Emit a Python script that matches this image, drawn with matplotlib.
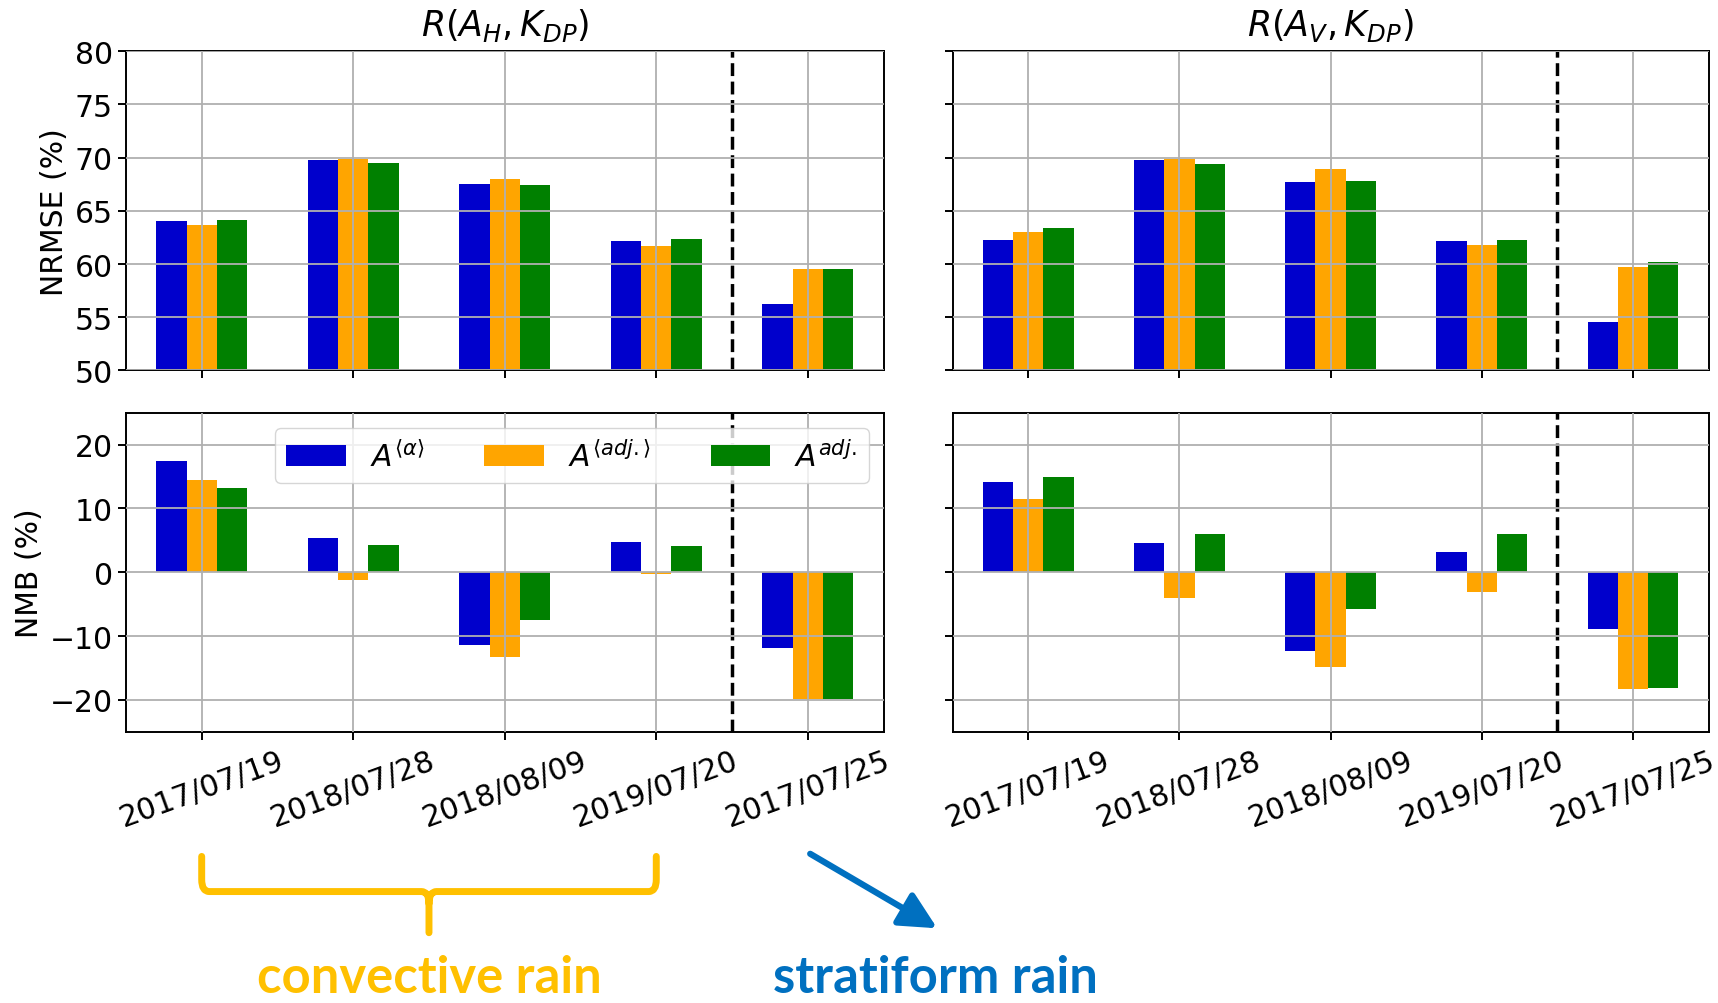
import matplotlib.pyplot as plt
import matplotlib.transforms as mtransforms
import numpy as np
from matplotlib.patches import FancyArrowPatch, PathPatch
from matplotlib.path import Path

# -----------------------------
# Data
# -----------------------------

dates = ["2017/07/19", "2018/07/28", "2018/08/09", "2019/07/20", "2017/07/25"]

series_labels = [
    r"$A^{\langle\alpha\rangle}$",
    r"$A^{\langle adj.\rangle}$",
    r"$A^{adj.}$",
]
series_colors = ["#0000cc", "orange", "green"]

# NRMSE (%), R(A_H, K_DP)
nrmse_h_alpha = [64.0, 69.8, 67.5, 62.2, 56.2]
nrmse_h_adj_mean = [63.7, 69.9, 68.0, 61.7, 59.5]
nrmse_h_adj = [64.1, 69.5, 67.4, 62.4, 59.5]

# NRMSE (%), R(A_V, K_DP)
nrmse_v_alpha = [62.3, 69.8, 67.7, 62.2, 54.6]
nrmse_v_adj_mean = [63.0, 69.9, 68.9, 61.8, 59.7]
nrmse_v_adj = [63.4, 69.4, 67.8, 62.3, 60.2]

# NMB (%), R(A_H, K_DP)
nmb_h_alpha = [17.4, 5.3, -11.4, 4.7, -11.9]
nmb_h_adj_mean = [14.5, -1.2, -13.2, -0.3, -19.9]
nmb_h_adj = [13.2, 4.3, -7.5, 4.1, -19.9]

# NMB (%), R(A_V, K_DP)
nmb_v_alpha = [14.2, 4.6, -12.3, 3.2, -8.9]
nmb_v_adj_mean = [11.5, -4.0, -14.8, -3.1, -18.3]
nmb_v_adj = [14.9, 6.0, -5.7, 6.0, -18.1]

# convective events are the first four, stratiform the last
n_convective = 4

# -----------------------------
# Style
# -----------------------------

plt.rcParams["font.size"] = 21.5
plt.rcParams["axes.linewidth"] = 1.4
plt.rcParams["grid.linewidth"] = 1.3
plt.rcParams["xtick.major.width"] = 1.4
plt.rcParams["ytick.major.width"] = 1.4
plt.rcParams["xtick.major.size"] = 6
plt.rcParams["ytick.major.size"] = 6

fig = plt.figure(figsize=(17.18, 10.04), dpi=100)

w = 0.441
h = 0.318
ax_tl = fig.add_axes([0.0733, 0.630, w, h])
ax_tr = fig.add_axes([0.5545, 0.630, w - 0.001, h])
ax_bl = fig.add_axes([0.0733, 0.270, w, h])
ax_br = fig.add_axes([0.5545, 0.270, w - 0.001, h])

x = np.arange(len(dates))
width = 0.2
offsets = [-width, 0.0, width]


def draw_bars(ax, values):

    """
    Three grouped bars per date.
    """
    for off, vals, color, label in zip(offsets, values, series_colors, series_labels):
        ax.bar(x + off, vals, width, color=color, label=label)

    ax.axvline(n_convective - 0.5, color="black", linestyle="--", linewidth=2.5)
    ax.set_xlim(-0.5, len(dates) - 0.5)
    ax.set_xticks(x)
    ax.grid(True)
    ax.set_axisbelow(False)


draw_bars(ax_tl, [nrmse_h_alpha, nrmse_h_adj_mean, nrmse_h_adj])
draw_bars(ax_tr, [nrmse_v_alpha, nrmse_v_adj_mean, nrmse_v_adj])
draw_bars(ax_bl, [nmb_h_alpha, nmb_h_adj_mean, nmb_h_adj])
draw_bars(ax_br, [nmb_v_alpha, nmb_v_adj_mean, nmb_v_adj])

# Y axes
for ax in (ax_tl, ax_tr):
    ax.set_ylim(50, 80)
    ax.set_yticks(np.arange(50, 81, 5))
    ax.set_xticklabels([])

for ax in (ax_bl, ax_br):
    ax.set_ylim(-25, 25)
    ax.set_yticks([-20, -10, 0, 10, 20])
    ax.set_xticklabels(dates, rotation=20, ha="center")

ax_tr.set_yticklabels([])
ax_br.set_yticklabels([])

ax_tl.set_ylabel("NRMSE (%)")
ax_bl.set_ylabel("NMB (%)")

# Titles
ax_tl.set_title(r"$R(A_H,K_{DP})$", fontsize=25, pad=12)
ax_tr.set_title(r"$R(A_V,K_{DP})$", fontsize=25, pad=12)

# Legend
ax_bl.legend(loc="upper right", ncol=3, fontsize=21.5)

# -----------------------------
# Annotations below the axes
# -----------------------------

trans = mtransforms.blended_transform_factory(ax_bl.transData, fig.transFigure)

x0, x1 = 0, n_convective - 1
xm = (x0 + x1) / 2
y_top, y_mid, y_tip = 0.146, 0.111, 0.070
rx, ry = 0.05, 0.012

verts = [
    (x0, y_top), (x0, y_mid + ry), (x0, y_mid), (x0 + rx, y_mid),
    (xm - rx, y_mid), (xm, y_mid), (xm, y_mid - ry), (xm, y_tip),
    (x1, y_top), (x1, y_mid + ry), (x1, y_mid), (x1 - rx, y_mid),
    (xm + rx, y_mid), (xm, y_mid), (xm, y_mid - ry),
]
codes = [
    Path.MOVETO, Path.LINETO, Path.CURVE3, Path.CURVE3,
    Path.LINETO, Path.CURVE3, Path.CURVE3, Path.LINETO,
    Path.MOVETO, Path.LINETO, Path.CURVE3, Path.CURVE3,
    Path.LINETO, Path.CURVE3, Path.CURVE3,
]
brace = PathPatch(
    Path(verts, codes),
    transform=trans,
    facecolor="none",
    edgecolor="#ffc000",
    linewidth=5,
    capstyle="round",
    joinstyle="round",
    clip_on=False
)
fig.add_artist(brace)

fig.text(
    xm, 0.002, "convective rain",
    transform=trans, ha="center", va="bottom",
    color="#ffc000", fontsize=36.5, fontweight="bold", family="Lato"
)

arrow = FancyArrowPatch(
    (n_convective, 0.150), (n_convective + 0.87, 0.073),
    transform=trans,
    arrowstyle="-|>,head_length=0.9,head_width=0.45",
    mutation_scale=25,
    color="#0070c0",
    linewidth=4.5,
    clip_on=False
)
fig.add_artist(arrow)

fig.text(
    n_convective + 0.84, 0.002, "stratiform rain",
    transform=trans, ha="center", va="bottom",
    color="#0070c0", fontsize=36.5, fontweight="bold", family="Lato"
)

fig.savefig("out.png", dpi=100)
